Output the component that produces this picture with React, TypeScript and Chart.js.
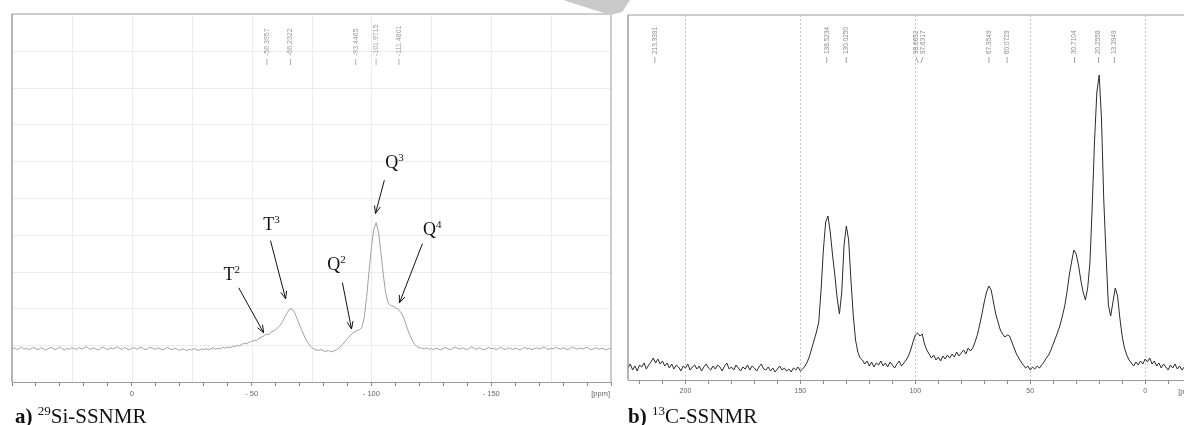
import { useEffect, useRef } from 'react';
import { Chart, registerables } from 'chart.js';

Chart.register(...registerables);

// ---------- 29Si spectrum (ppm from 50 down to -200, step 1 ppm) ----------
const SI_PPM_START = 50;
const SI_PPM_STEP = 1;
const siIntensity = [
  0.90,0.93,0.88,0.91,0.95,0.89,0.92,0.87,0.91,0.94,
  0.90,0.88,0.93,0.91,0.86,0.90,0.94,0.92,0.88,0.91,
  0.95,0.90,0.87,0.92,0.89,0.93,0.91,0.88,0.94,0.90,
  0.92,0.96,0.91,0.89,0.93,0.90,0.87,0.92,0.95,0.91,
  0.88,0.93,0.90,0.92,0.96,0.91,0.89,0.94,0.90,0.87,
  0.91,0.93,0.89,0.92,0.95,0.90,0.88,0.92,0.94,0.91,
  0.89,0.93,0.90,0.87,0.91,0.94,0.90,0.88,0.92,0.89,
  0.86,0.90,0.88,0.85,0.89,0.87,0.91,0.88,0.86,0.90,
  0.88,0.91,0.87,0.90,0.93,0.89,0.92,0.90,0.94,0.92,
  0.95,0.93,0.97,0.96,1.00,0.98,1.03,1.05,1.04,1.08,
  1.10,1.13,1.12,1.18,1.22,1.25,1.30,1.28,1.35,1.38,
  1.42,1.48,1.55,1.65,1.78,1.90,1.99,1.97,1.88,1.72,
  1.55,1.40,1.25,1.12,1.02,0.94,0.90,0.87,0.86,0.88,
  0.85,0.83,0.86,0.82,0.84,0.86,0.90,0.95,1.02,1.10,
  1.18,1.25,1.32,1.36,1.40,1.42,1.48,1.75,2.30,3.00,
  3.65,4.15,4.33,4.05,3.50,2.90,2.40,2.15,2.08,2.06,
  2.02,1.98,1.92,1.82,1.65,1.45,1.28,1.14,1.03,0.96,
  0.93,0.92,0.90,0.93,0.89,0.91,0.88,0.92,0.90,0.87,
  0.91,0.94,0.90,0.88,0.92,0.95,0.91,0.89,0.93,0.90,
  0.88,0.92,0.96,0.91,0.89,0.93,0.90,0.87,0.91,0.94,
  0.90,0.92,0.88,0.91,0.95,0.90,0.88,0.93,0.91,0.89,
  0.92,0.90,0.87,0.91,0.94,0.90,0.92,0.88,0.91,0.93,
  0.89,0.92,0.95,0.91,0.88,0.92,0.90,0.94,0.91,0.89,
  0.93,0.90,0.88,0.92,0.95,0.91,0.89,0.93,0.90,0.92,
  0.94,0.90,0.88,0.91,0.93,0.89,0.92,0.90,0.87,0.91,0.90,
];
const siPeakPpm = [-56.3957, -66.2322, -93.4465, -101.9715, -111.4801];
const siPeakText = ['-56.3957', '-66.2322', '-93.4465', '-101.9715', '-111.4801'];
const siTickValues = [0, -50, -100, -150];
const siTickText = ['0', '- 50', '- 100', '- 150'];
const siGridPpm = [25, 0, -25, -50, -75, -100, -125, -150, -175];
const siGridLevels = [1, 2, 3, 4, 5, 6, 7, 8, 9];
const siAnnBase = ['T', 'T', 'Q', 'Q', 'Q'];
const siAnnSup = ['2', '3', '2', '3', '4'];
const siAnnLabelPpm = [-41.7, -58.3, -85.4, -109.6, -125.4];
const siAnnLabelY = [2.94, 4.3, 3.2, 5.97, 4.17];
const siArrowFromPpm = [-44.6, -57.9, -87.9, -105.4, -121.3];
const siArrowFromY = [2.56, 3.84, 2.7, 5.48, 3.76];
const siArrowToPpm = [-55, -64.2, -91.7, -101.7, -111.7];
const siArrowToY = [1.34, 2.26, 1.44, 4.58, 2.15];

// ---------- 13C spectrum (ppm from 225 down to -25, step 1 ppm) ----------
const C_PPM_START = 225;
const C_PPM_STEP = 1;
const cIntensity = [
  12,16,10,14,9,15,13,17,11,15,
  18,22,17,21,16,19,14,17,12,16,
  11,15,13,9,14,12,16,10,13,15,
  11,14,9,13,16,12,10,14,11,15,
  13,9,14,17,11,13,10,15,12,9,
  13,11,15,10,14,12,9,13,16,11,
  10,13,9,12,8,11,14,10,12,9,
  11,8,12,10,13,9,11,14,18,24,
  32,40,48,58,90,130,158,164,148,125,
  105,82,66,88,135,154,140,100,65,40,
  28,22,20,16,19,14,18,13,17,15,
  19,14,17,13,18,15,12,16,19,14,
  17,20,24,30,38,45,47,44,46,36,
  30,26,22,25,20,23,19,24,21,25,
  22,26,23,28,24,27,30,26,32,29,
  32,38,45,55,66,78,88,94,90,78,
  66,58,50,46,43,45,44,38,32,26,
  22,18,15,12,14,10,13,11,14,12,
  15,18,22,25,30,36,42,48,55,64,
  74,88,105,118,130,126,115,100,88,80,
  92,118,175,240,288,305,262,180,125,75,
  64,78,92,84,62,44,32,25,20,17,
  14,18,15,19,16,21,18,22,16,19,
  14,17,12,16,13,10,15,12,16,11,
  14,10,13,16,11,14,9,13,11,15,12,
];
const cPeakPpm = [213.3391, 138.5234, 130.025, 98.6652, 97.6317, 67.9549, 60.0729, 30.7104, 20.2558, 13.3949];
const cPeakText = ['213.3391', '138.5234', '130.0250', '98.6652', '97.6317', '67.9549', '60.0729', '30.7104', '20.2558', '13.3949'];
const cTickValues = [200, 150, 100, 50, 0];
const cTickText = ['200', '150', '100', '50', '0'];
const cGridPpm = [200, 150, 100, 50, 0];

const SANS = '"Liberation Sans", Arial, sans-serif';
const SERIF = '"Liberation Serif", "Times New Roman", serif';

function drawPeakLabels(chart: any, ppms: number[], texts: string[], fontPx: number, color: string, textBottom: number, gap: number) {
  const ctx = chart.ctx;
  const xs = chart.scales.x;
  const px = ppms.map((p) => xs.getPixelForValue(p));
  const lx = px.slice();
  for (let it = 0; it < 30; it++) {
    for (let i = 1; i < lx.length; i++) {
      if (lx[i] - lx[i - 1] < gap) {
        const mid = (lx[i] + lx[i - 1]) / 2;
        lx[i - 1] = mid - gap / 2;
        lx[i] = mid + gap / 2;
      }
    }
  }
  ctx.save();
  ctx.fillStyle = color;
  ctx.strokeStyle = color;
  ctx.lineWidth = 0.8;
  ctx.font = `${fontPx}px ${SANS}`;
  ctx.textAlign = 'left';
  ctx.textBaseline = 'middle';
  for (let i = 0; i < px.length; i++) {
    ctx.beginPath();
    ctx.moveTo(lx[i], textBottom + 3);
    ctx.lineTo(px[i], textBottom + 9);
    ctx.stroke();
    ctx.save();
    ctx.translate(lx[i], textBottom);
    ctx.rotate(-Math.PI / 2);
    ctx.fillText(texts[i], 0, 0);
    ctx.restore();
  }
  ctx.restore();
}

function drawPpmLabel(chart: any) {
  const ctx = chart.ctx;
  const a = chart.chartArea;
  ctx.save();
  ctx.fillStyle = '#666';
  ctx.font = `7.5px ${SANS}`;
  ctx.textAlign = 'right';
  ctx.textBaseline = 'top';
  ctx.fillText('[ppm]', a.right - 1, a.bottom + 8);
  ctx.restore();
}

const siPlugin = {
  id: 'siDecor',
  beforeDatasetsDraw(chart: any) {
    const { ctx, chartArea: a, scales } = chart;
    ctx.save();
    ctx.strokeStyle = '#ececec';
    ctx.lineWidth = 1;
    siGridPpm.forEach((p) => {
      const X = Math.round(scales.x.getPixelForValue(p)) + 0.5;
      ctx.beginPath(); ctx.moveTo(X, a.top); ctx.lineTo(X, a.bottom); ctx.stroke();
    });
    siGridLevels.forEach((v) => {
      const Y = Math.round(scales.y.getPixelForValue(v)) + 0.5;
      ctx.beginPath(); ctx.moveTo(a.left, Y); ctx.lineTo(a.right, Y); ctx.stroke();
    });
    ctx.restore();
  },
  afterDatasetsDraw(chart: any) {
    const { ctx, chartArea: a, scales } = chart;
    ctx.save();
    ctx.lineWidth = 1.5;
    ctx.strokeStyle = '#bdbdbd';
    ctx.beginPath(); ctx.moveTo(a.left, a.top); ctx.lineTo(a.right, a.top); ctx.lineTo(a.right, a.bottom); ctx.stroke();
    ctx.strokeStyle = '#9c9c9c';
    ctx.beginPath(); ctx.moveTo(a.left, a.bottom); ctx.lineTo(a.left, a.top); ctx.stroke();
    ctx.restore();

    drawPeakLabels(chart, siPeakPpm, siPeakText, 7, '#9a9a9a', 56, 8);

    // annotations
    ctx.save();
    ctx.fillStyle = '#111';
    ctx.strokeStyle = '#111';
    ctx.lineWidth = 1;
    ctx.textBaseline = 'alphabetic';
    ctx.textAlign = 'left';
    for (let i = 0; i < siAnnBase.length; i++) {
      const cx = scales.x.getPixelForValue(siAnnLabelPpm[i]);
      const cy = scales.y.getPixelForValue(siAnnLabelY[i]);
      ctx.font = `18px ${SERIF}`;
      const wb = ctx.measureText(siAnnBase[i]).width;
      ctx.font = `11px ${SERIF}`;
      const ws = ctx.measureText(siAnnSup[i]).width;
      const sx = cx - (wb + ws) / 2;
      ctx.font = `18px ${SERIF}`;
      ctx.fillText(siAnnBase[i], sx, cy + 6);
      ctx.font = `11px ${SERIF}`;
      ctx.fillText(siAnnSup[i], sx + wb, cy - 1);
      const x1 = scales.x.getPixelForValue(siArrowFromPpm[i]);
      const y1 = scales.y.getPixelForValue(siArrowFromY[i]);
      const x2 = scales.x.getPixelForValue(siArrowToPpm[i]);
      const y2 = scales.y.getPixelForValue(siArrowToY[i]);
      ctx.beginPath(); ctx.moveTo(x1, y1); ctx.lineTo(x2, y2); ctx.stroke();
      const ang = Math.atan2(y2 - y1, x2 - x1);
      const hl = 8;
      ctx.beginPath();
      ctx.moveTo(x2 - hl * Math.cos(ang - 0.38), y2 - hl * Math.sin(ang - 0.38));
      ctx.lineTo(x2, y2);
      ctx.lineTo(x2 - hl * Math.cos(ang + 0.38), y2 - hl * Math.sin(ang + 0.38));
      ctx.stroke();
    }
    ctx.restore();
    drawPpmLabel(chart);
  },
};

const cPlugin = {
  id: 'cDecor',
  beforeDatasetsDraw(chart: any) {
    const { ctx, chartArea: a, scales } = chart;
    ctx.save();
    ctx.strokeStyle = '#c4c4c4';
    ctx.lineWidth = 1;
    ctx.setLineDash([2, 2]);
    cGridPpm.forEach((p) => {
      const X = Math.round(scales.x.getPixelForValue(p)) + 0.5;
      ctx.beginPath(); ctx.moveTo(X, a.top); ctx.lineTo(X, a.bottom); ctx.stroke();
    });
    ctx.restore();
  },
  afterDatasetsDraw(chart: any) {
    const { ctx, chartArea: a } = chart;
    ctx.save();
    ctx.lineWidth = 1.5;
    ctx.strokeStyle = '#bdbdbd';
    ctx.beginPath(); ctx.moveTo(a.left, a.top); ctx.lineTo(a.right, a.top); ctx.stroke();
    ctx.strokeStyle = '#9c9c9c';
    ctx.beginPath(); ctx.moveTo(a.left, a.bottom); ctx.lineTo(a.left, a.top); ctx.stroke();
    ctx.restore();
    drawPeakLabels(chart, cPeakPpm, cPeakText, 6.5, '#8a8a8a', 54, 7);
    drawPpmLabel(chart);
  },
};

function tickCallback(values: number[], texts: string[]) {
  return (v: any) => {
    const k = values.indexOf(Math.round(Number(v)));
    return k >= 0 ? texts[k] : '';
  };
}

export default function App() {
  const siRef = useRef<HTMLCanvasElement>(null);
  const cRef = useRef<HTMLCanvasElement>(null);

  useEffect(() => {
    const siChart = new Chart(siRef.current as HTMLCanvasElement, {
      type: 'line',
      data: {
        datasets: [{
          data: siIntensity.map((v, i) => ({ x: SI_PPM_START - i * SI_PPM_STEP, y: v })),
          borderColor: '#a0a0a0',
          borderWidth: 1,
          pointRadius: 0,
          tension: 0,
          fill: false,
        }],
      },
      options: {
        responsive: false,
        animation: false,
        events: [],
        layout: { padding: { left: 12, right: 9, top: 14, bottom: 0 } },
        plugins: { legend: { display: false }, tooltip: { enabled: false } },
        scales: {
          x: {
            type: 'linear', min: -200, max: 50, reverse: true,
            afterFit: (s: any) => { s.height = 30; },
            border: { display: true, color: '#9a9a9a', width: 1 },
            grid: { drawOnChartArea: false, drawTicks: true, tickLength: 4, tickColor: '#8a8a8a' },
            ticks: {
              stepSize: 10, autoSkip: false, maxRotation: 0, includeBounds: false, padding: 3,
              color: '#666', font: { size: 7.5, family: SANS },
              callback: tickCallback(siTickValues, siTickText),
            },
          },
          y: { display: false, min: 0, max: 10 },
        },
      } as any,
      plugins: [siPlugin],
    });

    const cChart = new Chart(cRef.current as HTMLCanvasElement, {
      type: 'line',
      data: {
        datasets: [{
          data: cIntensity.map((v, i) => ({ x: C_PPM_START - i * C_PPM_STEP, y: v })),
          borderColor: '#2b2b2b',
          borderWidth: 1,
          pointRadius: 0,
          tension: 0,
          fill: false,
        }],
      },
      options: {
        responsive: false,
        animation: false,
        events: [],
        layout: { padding: { left: 8, right: 22, top: 15, bottom: 0 } },
        plugins: { legend: { display: false }, tooltip: { enabled: false } },
        scales: {
          x: {
            type: 'linear', min: -23, max: 225, reverse: true,
            afterFit: (s: any) => { s.height = 30; },
            border: { display: true, color: '#9a9a9a', width: 1 },
            grid: { drawOnChartArea: false, drawTicks: true, tickLength: 4, tickColor: '#8a8a8a' },
            ticks: {
              stepSize: 10, autoSkip: false, maxRotation: 0, includeBounds: false, padding: 3,
              color: '#666', font: { size: 7, family: SANS },
              callback: tickCallback(cTickValues, cTickText),
            },
          },
          y: { display: false, min: 0, max: 365 },
        },
      } as any,
      plugins: [cPlugin],
    });

    return () => {
      siChart.destroy();
      cChart.destroy();
    };
  }, []);

  const capStyle: any = {
    position: 'absolute', top: 406, fontFamily: SERIF, fontSize: 21, lineHeight: '21px',
    color: '#111', whiteSpace: 'nowrap',
  };
  const supStyle: any = { fontSize: 13, position: 'relative', top: -8 };

  return (
    <div style={{ position: 'fixed', left: 0, top: 0, width: 1184, height: 425, overflow: 'hidden', background: '#fff' }}>
      <canvas ref={siRef} width={620} height={412} style={{ position: 'absolute', left: 0, top: 0 }} />
      <canvas ref={cRef} width={600} height={410} style={{ position: 'absolute', left: 620, top: 0 }} />
      <svg width={1184} height={20} style={{ position: 'absolute', left: 0, top: 0 }}>
        <polygon points="563,0 630,0 622,12 610,15" fill="#c9c9c9" />
      </svg>
      <div style={{ ...capStyle, left: 15 }}>
        <b>a)</b> <span style={supStyle}>29</span>Si-SSNMR
      </div>
      <div style={{ ...capStyle, left: 628 }}>
        <b>b)</b> <span style={supStyle}>13</span>C-SSNMR
      </div>
    </div>
  );
}
